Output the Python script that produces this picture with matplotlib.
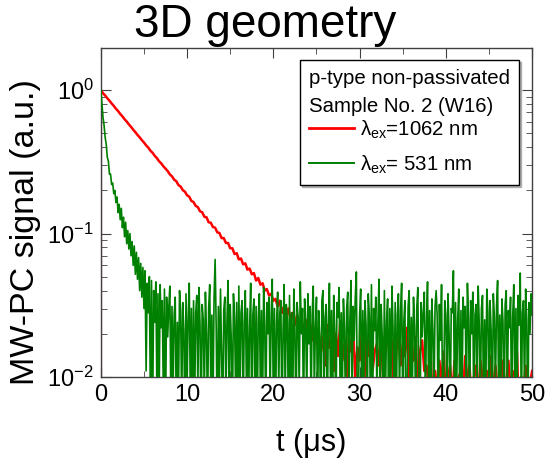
import numpy as np
import matplotlib.pyplot as plt
from matplotlib.ticker import MultipleLocator, LogLocator, NullFormatter

plt.rcParams['font.family'] = 'Liberation Sans'
plt.rcParams['mathtext.fontset'] = 'custom'
plt.rcParams['mathtext.rm'] = 'Liberation Sans'
plt.rcParams['mathtext.it'] = 'Liberation Sans'
plt.rcParams['axes.unicode_minus'] = False

# time bases (us)
t_red = np.arange(0, 50.01, 0.25)
t_green = np.arange(0, 50.001, 0.125)

# 1062 nm excitation: slow bulk decay, then noise floor after ~25 us
sig_1062 = [
    1.00, 0.955, 0.92, 0.88, 0.846, 0.81, 0.778, 0.744, 0.716, 0.684,
    0.658, 0.628, 0.605, 0.578, 0.556, 0.531, 0.511, 0.488, 0.470, 0.449,
    0.432, 0.413, 0.398, 0.379, 0.366, 0.349, 0.336, 0.320, 0.309, 0.295,
    0.284, 0.273, 0.259, 0.251, 0.238, 0.232, 0.218, 0.213, 0.201, 0.196,
    0.185, 0.181, 0.169, 0.166, 0.156, 0.153, 0.143, 0.141, 0.131, 0.130,
    0.120, 0.119, 0.111, 0.110, 0.102, 0.101, 0.093, 0.093, 0.086, 0.086,
    0.079, 0.079, 0.072, 0.073, 0.066, 0.067, 0.061, 0.062, 0.056, 0.057,
    0.052, 0.053, 0.047, 0.049, 0.044, 0.045, 0.040, 0.041, 0.037, 0.038,
    0.034, 0.035, 0.031, 0.034, 0.028, 0.031, 0.027, 0.030, 0.025, 0.028,
    0.023, 0.027, 0.022, 0.026, 0.020, 0.025, 0.019, 0.024, 0.018, 0.022,
    0.017,
    0.021, 0.015, 0.019, 0.012, 0.023, 0.016, 0.018, 0.011, 0.020, 0.014,
    0.024, 0.013, 0.017, 0.009, 0.019, 0.015, 0.022, 0.010, 0.016, 0.013,
    0.020, 0.008, 0.018, 0.014, 0.023, 0.011, 0.015, 0.017, 0.012, 0.019,
    0.009, 0.016, 0.021, 0.013, 0.018, 0.007, 0.015, 0.020, 0.012, 0.017,
    0.014, 0.022, 0.010, 0.016, 0.013, 0.019, 0.008, 0.015, 0.018, 0.011,
    0.012, 0.009, 0.014, 0.006, 0.011, 0.008, 0.013, 0.009, 0.015, 0.007,
    0.010, 0.012, 0.007, 0.013, 0.005, 0.010, 0.011, 0.008, 0.014, 0.009,
    0.012, 0.006, 0.010, 0.012, 0.007, 0.013, 0.010, 0.005, 0.011, 0.009,
    0.014, 0.007, 0.012, 0.008, 0.010, 0.013, 0.006, 0.009, 0.013, 0.008,
    0.011, 0.009, 0.015, 0.005, 0.010, 0.008, 0.012, 0.007, 0.009, 0.011,
]

# 531 nm excitation: fast surface decay (0-8 us), then noisy floor
sig_531_fast = [
    1.0, 0.80, 0.65, 0.57, 0.47, 0.42, 0.34, 0.32, 0.26, 0.26, 0.22, 0.225, 0.19, 0.20, 0.165, 0.18,
    0.14, 0.16, 0.125, 0.15, 0.11, 0.13, 0.095, 0.12, 0.085, 0.105, 0.078, 0.10, 0.07, 0.088, 0.06, 0.082,
    0.052, 0.074, 0.048, 0.068, 0.04, 0.062, 0.036, 0.058, 0.030, 0.055, 0.011, 0.045, 0.028, 0.050, 0.006, 0.047,
    0.005, 0.040, 0.024, 0.046, 0.008, 0.038, 0.006, 0.044, 0.022, 0.034, 0.007, 0.041, 0.005, 0.036, 0.019, 0.030,
    0.043,
]
sig_531_floor = [
    0.006, 0.031, 0.008, 0.027, 0.036, 0.005, 0.024, 0.007, 0.040, 0.029, 0.006, 0.033, 0.021, 0.004, 0.038, 0.009,
    0.026, 0.045, 0.007, 0.030, 0.005, 0.034, 0.006, 0.028, 0.037, 0.008, 0.042, 0.023, 0.004, 0.032, 0.025, 0.007,
    0.039, 0.020, 0.005, 0.030, 0.044, 0.008, 0.027, 0.006, 0.035, 0.066, 0.022, 0.004, 0.031, 0.009, 0.041, 0.014,
    0.005, 0.029, 0.036, 0.007, 0.025, 0.047, 0.006, 0.032, 0.018, 0.004, 0.038, 0.026, 0.008, 0.033, 0.005, 0.043,
    0.007, 0.028, 0.034, 0.005, 0.024, 0.040, 0.009, 0.030, 0.006, 0.022, 0.045, 0.004, 0.027, 0.035, 0.007, 0.031,
    0.004, 0.026, 0.038, 0.008, 0.029, 0.006, 0.042, 0.023, 0.005, 0.033, 0.020, 0.036, 0.007, 0.027, 0.048, 0.006,
    0.030, 0.005, 0.024, 0.039, 0.008, 0.028, 0.034, 0.004, 0.021, 0.044, 0.007, 0.032, 0.025, 0.005, 0.037, 0.009,
    0.028, 0.006, 0.041, 0.022, 0.004, 0.033, 0.026, 0.008, 0.046, 0.020, 0.030, 0.005, 0.035, 0.024, 0.007, 0.038,
    0.017, 0.031, 0.006, 0.027, 0.043, 0.008, 0.022, 0.036, 0.005, 0.029, 0.019, 0.004, 0.034, 0.040, 0.007, 0.026,
    0.032, 0.005, 0.023, 0.045, 0.009, 0.029, 0.006, 0.037, 0.021, 0.004, 0.033, 0.026, 0.042, 0.007, 0.028, 0.008,
    0.035, 0.022, 0.005, 0.030, 0.039, 0.007, 0.025, 0.047, 0.006, 0.031, 0.018, 0.036, 0.054, 0.004, 0.008, 0.027,
    0.041, 0.006, 0.029, 0.009, 0.034, 0.023, 0.004, 0.038, 0.027, 0.007, 0.044, 0.005, 0.030, 0.021, 0.036, 0.008,
    0.025, 0.048, 0.005, 0.032, 0.019, 0.006, 0.040, 0.007, 0.024, 0.035, 0.004, 0.030, 0.008, 0.043, 0.022, 0.006,
    0.033, 0.005, 0.027, 0.038, 0.007, 0.029, 0.045, 0.006, 0.024, 0.034, 0.004, 0.008, 0.031, 0.040, 0.006, 0.026,
    0.009, 0.036, 0.022, 0.005, 0.030, 0.042, 0.007, 0.004, 0.033, 0.019, 0.028, 0.039, 0.006, 0.024, 0.046, 0.008,
    0.029, 0.005, 0.035, 0.021, 0.007, 0.031, 0.040, 0.026, 0.004, 0.032, 0.018, 0.044, 0.006, 0.009, 0.034, 0.027,
    0.007, 0.038, 0.020, 0.005, 0.030, 0.028, 0.055, 0.006, 0.033, 0.008, 0.025, 0.041, 0.004, 0.029, 0.007, 0.036,
    0.022, 0.031, 0.006, 0.045, 0.026, 0.005, 0.034, 0.020, 0.039, 0.004, 0.027, 0.032, 0.008, 0.043, 0.023, 0.006,
    0.030, 0.037, 0.005, 0.025, 0.007, 0.041, 0.028, 0.006, 0.034, 0.021, 0.004, 0.038, 0.026, 0.008, 0.031, 0.047,
    0.006, 0.027, 0.009, 0.035, 0.024, 0.004, 0.032, 0.040, 0.007, 0.029, 0.022, 0.036, 0.005, 0.026, 0.044, 0.008,
    0.030, 0.006, 0.037, 0.023, 0.053, 0.005, 0.028, 0.034, 0.007, 0.041, 0.025, 0.004, 0.033, 0.020, 0.038, 0.027,
]
sig_531 = sig_531_fast + sig_531_floor

fig = plt.figure(figsize=(5.48, 4.67), dpi=100)
ax = fig.add_axes([0.184, 0.193, 0.787, 0.704])

# red trace rises from the baseline at t = 0
ax.plot(np.concatenate([[0.0], t_red]), [0.003] + sig_1062, color='#ff0000', lw=1.8,
        label=r'$\lambda_{\mathregular{ex}}$=1062 nm', zorder=2)
ax.plot(t_green, sig_531, color='#008000', lw=1.2,
        label=r'$\lambda_{\mathregular{ex}}$= 531 nm', zorder=3)

ax.set_yscale('log')
ax.set_xlim(0, 50)
ax.set_ylim(0.01, 1.97)
ax.xaxis.set_major_locator(MultipleLocator(10))
ax.xaxis.set_minor_locator(MultipleLocator(5))
ax.yaxis.set_minor_locator(LogLocator(base=10, subs=np.arange(2, 10)))
ax.yaxis.set_minor_formatter(NullFormatter())
ax.tick_params(which='both', direction='in', top=True, right=True, labelsize=17,
               color='0.25', pad=5)
ax.tick_params(which='major', length=7)
ax.tick_params(which='minor', length=4)
for s in ax.spines.values():
    s.set_color('0.25')
    s.set_linewidth(1.0)

leg = ax.legend(title='p-type non-passivated\nSample No. 2 (W16)', loc='upper right',
                bbox_to_anchor=(0.970, 0.9635), borderaxespad=0, fontsize=14.7,
                title_fontsize=14.7, alignment='left', fancybox=False,
                edgecolor='k', handlelength=2.2, handletextpad=0.3,
                borderpad=0.45, labelspacing=0.62,
                shadow={'ox': 1.5, 'oy': -1.5, 'color': '0.6', 'alpha': 0.7},
                framealpha=1)
leg.get_frame().set_linewidth(1.0)
leg.get_title().set_linespacing(1.55)
leg._legend_box.sep = 2  # tighter gap between the two header lines and the entries
for line in leg.get_lines():
    line.set_linewidth(2.0 if line.get_color() == '#ff0000' else 1.4)

fig.text(0.484, 0.946, '3D geometry', fontsize=33, ha='center', va='center')
fig.text(0.046, 0.503, 'MW-PC signal (a.u.)', fontsize=24.5, rotation=90,
         ha='center', va='center')
fig.text(0.568, 0.051, 't (μs)', fontsize=22, ha='center', va='center')

fig.savefig('out.png', dpi=100)
